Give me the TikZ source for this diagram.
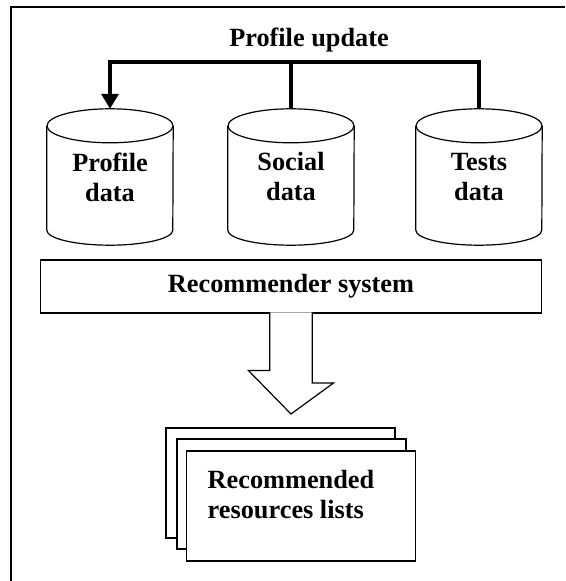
\documentclass[tikz,border=0pt]{standalone}
\usepackage{fontspec}
\setmainfont{Liberation Serif}
\usetikzlibrary{arrows.meta,positioning,calc}

\tikzset{
  txt/.style={font=\fontsize{26.3}{30}\selectfont\bfseries, align=center},
  db/.style={minimum width=126pt, minimum height=136pt, inner sep=0pt, txt},
  dbline/.style={draw=black, line width=1.2pt},
  page/.style={draw=black, fill=white, line width=1.2pt, minimum width=229pt, minimum height=110pt, inner sep=0pt},
  link/.style={black, line width=3.5pt},
}

\begin{document}
\begin{tikzpicture}[x=1pt,y=1pt]
\useasboundingbox (0,0) rectangle (565,581);
\draw[black, line width=1.5pt] (11,0) -- (11,574) -- (565,574);

\node[txt] (upd) at (309,541) {Profile update};

\node[db] (prof) at (110,404) {Profile\\data};
\node[db] (soc) at (291,404) {Social\\data};
\node[db] (tst) at (479,404) {Tests\\data};

\draw[dbline] ([yshift=-17pt]prof.north) ellipse[x radius=63, y radius=17];
\draw[dbline] ([yshift=-17pt]prof.north west) -- ([yshift=15pt]prof.south west) arc[start angle=180, end angle=360, x radius=63, y radius=15] -- ([yshift=-17pt]prof.north east);
\draw[dbline] ([yshift=-17pt]soc.north) ellipse[x radius=63, y radius=17];
\draw[dbline] ([yshift=-17pt]soc.north west) -- ([yshift=15pt]soc.south west) arc[start angle=180, end angle=360, x radius=63, y radius=15] -- ([yshift=-17pt]soc.north east);
\draw[dbline] ([yshift=-17pt]tst.north) ellipse[x radius=63, y radius=17];
\draw[dbline] ([yshift=-17pt]tst.north west) -- ([yshift=15pt]tst.south west) arc[start angle=180, end angle=360, x radius=63, y radius=15] -- ([yshift=-17pt]tst.north east);

\coordinate (bar) at (291,519);
\draw[link] (soc.north) -- (soc.north |- bar);
\draw[link, -{Triangle[length=15pt,width=17pt]}] (tst.north) |- (prof.north |- bar) -- (prof.north);

\node[draw=black, line width=1.2pt, minimum width=501pt, minimum height=53pt, txt] (rec) at (291,294.5) {Recommender system};

% big arrow
\filldraw[fill=white, draw=black, line width=1.2pt]
  ($(rec.south)+(-21.3,1.2)$) -- ++(0,-58.2) -- ++(-21.2,0) -- (291,167)
  -- (333.5,198) -- ++(-21.2,0) -- ($(rec.south)+(21.3,1.2)$);

\node[page] (lst1) at (280.5,98) {};
\node[page] (lst2) at (291.5,87) {};
\node[page] (lst3) at (301,75) {};
\node[txt, align=left] (lsttxt) at (291,86.5) {Recommended\\resources lists};
\end{tikzpicture}
\end{document}
